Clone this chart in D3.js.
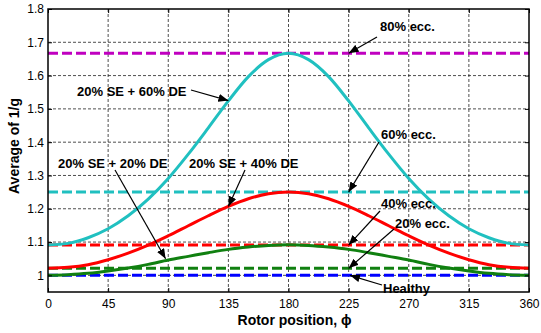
<!DOCTYPE html>
<html>
<head>
<meta charset="utf-8">
<script src="https://cdn.jsdelivr.net/npm/d3@7"></script>
<style>
  body { margin: 0; background: #fff; }
  svg { display: block; font-family: "Liberation Sans", Arial, sans-serif; }
</style>
</head>
<body>
<svg id="chart" width="541" height="333"></svg>
<script>
// rotor position (deg)
const rotorPos = [0, 15, 30, 45, 60, 75, 90, 105, 120, 135, 150, 165, 180,
  195, 210, 225, 240, 255, 270, 285, 300, 315, 330, 345, 360];

// mixed eccentricity curves (average of 1/g)
const se20de60 = [1.091, 1.096, 1.113, 1.140, 1.179, 1.229, 1.291, 1.364, 1.443, 1.524, 1.597, 1.648, 1.667,
  1.648, 1.597, 1.524, 1.443, 1.364, 1.291, 1.229, 1.179, 1.140, 1.113, 1.096, 1.091];
const se20de40 = [1.021, 1.024, 1.032, 1.047, 1.067, 1.091, 1.119, 1.149, 1.179, 1.207, 1.230, 1.245, 1.250,
  1.245, 1.230, 1.207, 1.179, 1.149, 1.119, 1.091, 1.067, 1.047, 1.032, 1.024, 1.021];
const se20de20 = [1.000, 1.002, 1.006, 1.013, 1.022, 1.033, 1.046, 1.057, 1.068, 1.078, 1.085, 1.090, 1.092,
  1.090, 1.085, 1.078, 1.068, 1.057, 1.046, 1.033, 1.022, 1.013, 1.006, 1.002, 1.000];

// static eccentricity levels (dashed)
const eccLabels = ['80% ecc.', '60% ecc.', '40% ecc.', '20% ecc.', 'Healthy'];
const eccValues = [1.667, 1.25, 1.091, 1.021, 1.0];
const eccColors = ['#c000c0', '#20c0c0', '#ff0000', '#108010', '#0000ff'];

const curveColors = ['#20c0c0', '#ff0000', '#108010'];

const xTicks = [0, 45, 90, 135, 180, 225, 270, 315, 360];
const yTickLabels = ['1', '1.1', '1.2', '1.3', '1.4', '1.5', '1.6', '1.7', '1.8'];

const padL = 48, padR = 529, padT = 9, padB = 292;

const svg = d3.select('#chart');

const x = d3.scaleLinear().domain([0, 360]).range([padL, padR]);
const y = d3.scaleLinear().domain([0.95, 1.8]).range([padB, padT]);

const yTicks = yTickLabels.map(Number);

// grid
const grid = svg.append('g')
  .attr('stroke', '#222')
  .attr('stroke-width', 0.8)
  .attr('stroke-dasharray', '3,2');

grid.selectAll('.vg')
  .data(xTicks.slice(1, -1))
  .enter()
  .append('line')
  .attr('x1', d => x(d)).attr('x2', d => x(d))
  .attr('y1', padT).attr('y2', padB);

grid.selectAll('.hg')
  .data(yTicks.slice(0, -1))
  .enter()
  .append('line')
  .attr('x1', padL).attr('x2', padR)
  .attr('y1', d => y(d)).attr('y2', d => y(d));

// dashed eccentricity levels
svg.selectAll('.ecc')
  .data(eccValues)
  .enter()
  .append('line')
  .attr('x1', padL).attr('x2', padR)
  .attr('y1', d => y(d)).attr('y2', d => y(d))
  .attr('stroke', (d, i) => eccColors[i])
  .attr('stroke-width', 3)
  .attr('stroke-dasharray', '10,4');

// mixed eccentricity curves
const line = d3.line()
  .x((d, i) => x(rotorPos[i]))
  .y(d => y(d))
  .curve(d3.curveMonotoneX);

[se20de60, se20de40, se20de20].forEach((s, k) => {
  svg.append('path')
    .datum(s)
    .attr('d', line)
    .attr('fill', 'none')
    .attr('stroke', curveColors[k])
    .attr('stroke-width', 3);
});

// axes (inward ticks all around)
const axisFont = g => g.selectAll('text')
  .style('font-size', '12px')
  .style('font-family', '"Liberation Sans", Arial, sans-serif')
  .attr('fill', '#000');

svg.append('g')
  .attr('transform', `translate(0, ${padB})`)
  .call(d3.axisBottom(x).tickValues(xTicks).tickSize(-4).tickPadding(7).tickFormat(d3.format('d')))
  .call(axisFont)
  .call(g => g.select('.domain').remove());

svg.append('g')
  .attr('transform', `translate(${padL}, 0)`)
  .call(d3.axisLeft(y).tickValues(yTicks).tickSize(-4).tickPadding(4).tickFormat((d, i) => yTickLabels[i]))
  .call(axisFont)
  .call(g => g.select('.domain').remove());

svg.append('g')
  .attr('transform', `translate(0, ${padT})`)
  .call(d3.axisTop(x).tickValues(xTicks).tickSize(-4).tickFormat(''))
  .call(g => g.select('.domain').remove());

svg.append('g')
  .attr('transform', `translate(${padR}, 0)`)
  .call(d3.axisRight(y).tickValues(yTicks).tickSize(-4).tickFormat(''))
  .call(g => g.select('.domain').remove());

// frame
svg.append('rect')
  .attr('x', padL).attr('y', padT)
  .attr('width', padR - padL).attr('height', padB - padT)
  .attr('fill', 'none')
  .attr('stroke', '#000')
  .attr('stroke-width', 1.5);

// axis titles
svg.append('text')
  .attr('x', (padL + padR) / 2 + 6)
  .attr('y', 325)
  .attr('text-anchor', 'middle')
  .style('font-size', '14px')
  .style('font-weight', 'bold')
  .text('Rotor position, ϕ');

svg.append('text')
  .attr('transform', 'rotate(-90)')
  .attr('x', -146)
  .attr('y', 19)
  .attr('text-anchor', 'middle')
  .style('font-size', '14px')
  .style('font-weight', 'bold')
  .text('Average of 1/g');

// annotations: text at (tx, ty), arrow from (sx, sy) to data point (px, py)
svg.append('defs').append('marker')
  .attr('id', 'arrow')
  .attr('markerUnits', 'userSpaceOnUse')
  .attr('markerWidth', 11).attr('markerHeight', 8)
  .attr('refX', 10).attr('refY', 4)
  .attr('orient', 'auto')
  .append('path')
  .attr('d', 'M0,0 L10,4 L0,8 Z')
  .attr('fill', '#000');

const notes = [
  { text: '80% ecc.', tx: 380, ty: 26, sx: 377, sy: 37, px: 225, py: 1.667 },
  { text: '60% ecc.', tx: 381, ty: 134, sx: 379, sy: 142, px: 225, py: 1.25 },
  { text: '40% ecc.', tx: 381, ty: 203, sx: 380, sy: 211, px: 225, py: 1.091 },
  { text: '20% ecc.', tx: 395, ty: 223, sx: 394, sy: 229, px: 225, py: 1.021 },
  { text: 'Healthy', tx: 383, ty: 288, sx: 382, sy: 285, px: 226, py: 1.0 },
  { text: '20% SE + 60% DE', tx: 77, ty: 91, sx: 191, sy: 90, px: 135, py: 1.525 },
  { text: '20% SE + 20% DE', tx: 58, ty: 163, sx: 115, sy: 170, px: 88, py: 1.05 },
  { text: '20% SE + 40% DE', tx: 189, ty: 163, sx: 245, sy: 170, px: 135, py: 1.207 }
];

svg.selectAll('.note-line')
  .data(notes)
  .enter()
  .append('line')
  .attr('x1', d => d.sx).attr('y1', d => d.sy)
  .attr('x2', d => x(d.px)).attr('y2', d => y(d.py))
  .attr('stroke', '#000')
  .attr('stroke-width', 1.2)
  .attr('marker-end', 'url(#arrow)');

svg.selectAll('.note-text')
  .data(notes)
  .enter()
  .append('text')
  .attr('x', d => d.tx)
  .attr('y', d => d.ty)
  .attr('dy', '0.35em')
  .style('font-size', '13px')
  .style('font-weight', 'bold')
  .text(d => d.text);
</script>
</body>
</html>
